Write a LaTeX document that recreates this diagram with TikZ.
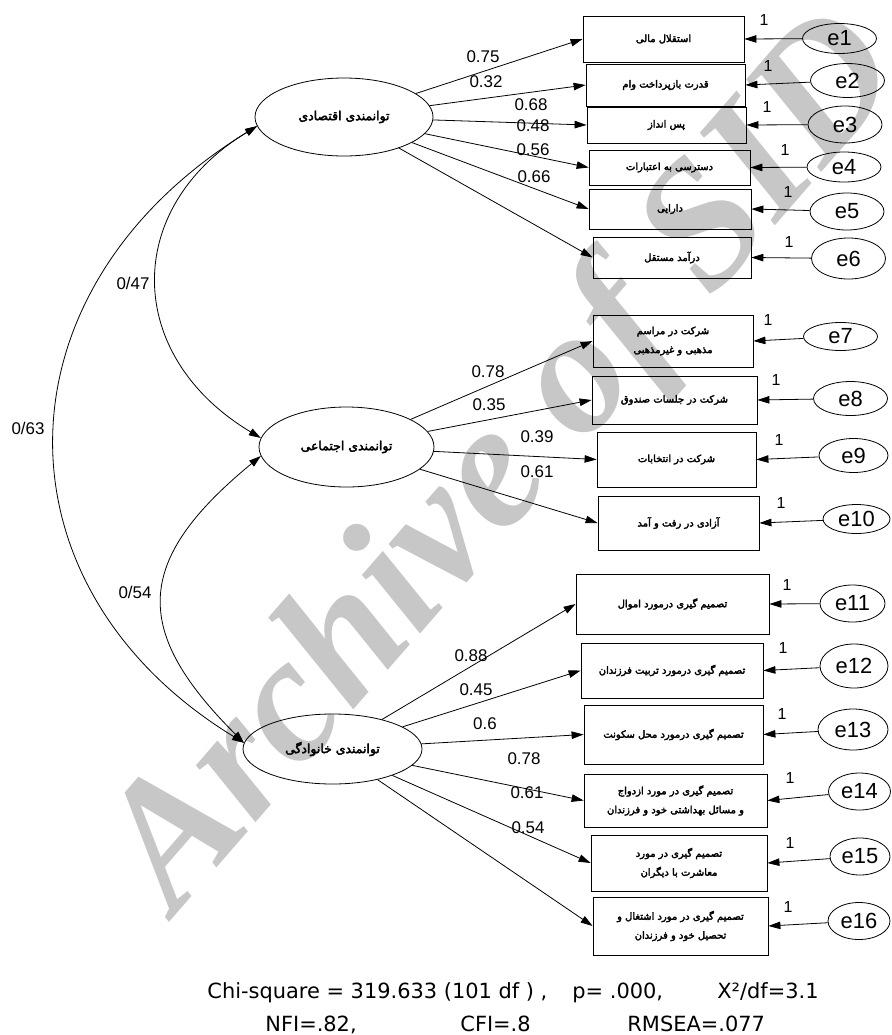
\documentclass[tikz,border=0pt]{standalone}
\usepackage{fontspec}
\setmainfont{Liberation Sans}
\newfontfamily\fafont[Script=Arabic,FakeBold=3]{DejaVu Sans}
\newfontfamily\fitfont{DejaVu Sans}
\newfontfamily\wmfont{Liberation Serif}
\TeXXeTstate=1
\usetikzlibrary{arrows.meta,shapes.geometric}
\newcommand\fatext[1]{\beginR #1\endR}
\tikzset{
  lat/.style={draw,ellipse,inner sep=0pt,font=\fafont\fontsize{12.5}{14}\selectfont},
  indbox/.style={draw,rectangle,inner sep=0pt,align=center,font=\fafont\fontsize{10}{19}\selectfont},
  err/.style={draw,ellipse,inner sep=0pt,minimum width=74bp,minimum height=34bp,font=\fontsize{22}{24}\selectfont},
  coef/.style={inner sep=0pt,font=\fontsize{17}{19}\selectfont},
  one/.style={inner sep=0pt,font=\fontsize{16}{18}\selectfont},
  fitidx/.style={inner sep=0pt,anchor=base west,font=\fitfont\fontsize{21}{24}\selectfont},
  load/.style={-{Triangle[length=12bp,width=7.5bp]}},
  cov/.style={{Triangle[length=12bp,width=7.5bp]}-{Triangle[length=12bp,width=7.5bp]}}
}
\begin{document}
\begin{tikzpicture}[x=1bp,y=-1bp,line width=0.8bp]
\useasboundingbox (0,0) rectangle (892,1035);
% watermark
\node[rotate=49,text=black!22,font=\wmfont\bfseries\itshape\fontsize{180}{180}\selectfont] (wm) at (508,466) {Archive of SID};
% latent factors
\node[lat,minimum width=178bp,minimum height=78bp] (eco) at (344,117) {\fatext{توانمندی اقتصادی}};
\node[lat,minimum width=175bp,minimum height=80bp] (soc) at (346.5,447) {\fatext{توانمندی اجتماعی}};
\node[lat,minimum width=179bp,minimum height=70bp] (fam) at (332.5,749) {\fatext{توانمندی خانوادگی}};
% indicators
\node[indbox,minimum width=161bp,minimum height=46bp] (b1) at (663.5,39) {\fatext{استقلال مالی}};
\node[indbox,minimum width=159bp,minimum height=42bp] (b2) at (665.5,85) {\fatext{قدرت بازپرداخت وام}};
\node[indbox,minimum width=159bp,minimum height=36bp] (b3) at (666.5,125) {\fatext{پس انداز}};
\node[indbox,minimum width=161bp,minimum height=35bp] (b4) at (669.5,167.5) {\fatext{دسترسی به اعتبارات}};
\node[indbox,minimum width=162bp,minimum height=40bp] (b5) at (670,209) {\fatext{دارایی}};
\node[indbox,minimum width=158bp,minimum height=41bp] (b6) at (672,257.5) {\fatext{درآمد مستقل}};
\node[indbox,minimum width=160bp,minimum height=52bp] (b7) at (673,341) {\fatext{شرکت در مراسم}\\\fatext{مذهبی و غیرمذهبی}};
\node[indbox,minimum width=165bp,minimum height=48bp] (b8) at (674.5,400) {\fatext{شرکت در جلسات صندوق}};
\node[indbox,minimum width=159bp,minimum height=55bp] (b9) at (676.5,459.5) {\fatext{شرکت در انتخابات}};
\node[indbox,minimum width=161bp,minimum height=54bp] (b10) at (678.5,523) {\fatext{آزادی در رفت و آمد}};
\node[indbox,minimum width=193bp,minimum height=60bp] (b11) at (672.5,604) {\fatext{تصمیم گیری درمورد اموال}};
\node[indbox,minimum width=182bp,minimum height=55bp] (b12) at (672,670.5) {\fatext{تصمیم گیری درمورد تربیت فرزندان}};
\node[indbox,minimum width=179bp,minimum height=59bp] (b13) at (673.5,734.5) {\fatext{تصمیم گیری درمورد محل سکونت}};
\node[indbox,minimum width=183bp,minimum height=53bp] (b14) at (675.5,800.5) {\fatext{تصمیم گیری در مورد ازدواج}\\\fatext{و مسائل بهداشتی خود و فرزندان}};
\node[indbox,minimum width=176bp,minimum height=56bp] (b15) at (679,863) {\fatext{تصمیم گیری در مورد}\\\fatext{معاشرت با دیگران}};
\node[indbox,minimum width=175bp,minimum height=58bp] (b16) at (680.5,926) {\fatext{تصمیم گیری در مورد اشتغال و}\\\fatext{تحصیل خود و فرزندان}};
% error terms
\node[err,minimum height=30bp] (e1) at (839.5,38.5) {e1};
\node[err] (e2) at (847.5,80.5) {e2};
\node[err,minimum height=37bp] (e3) at (845,124.5) {e3};
\node[err,minimum height=30bp] (e4) at (844,167) {e4};
\node[err,minimum height=37bp] (e5) at (847,211.5) {e5};
\node[err,minimum height=41bp] (e6) at (848.5,258.5) {e6};
\node[err,minimum height=28bp] (e7) at (840.5,336.5) {e7};
\node[err] (e8) at (850.5,398.5) {e8};
\node[err,minimum width=69bp] (e9) at (853.5,455.5) {e9};
\node[err,minimum width=67bp,minimum height=29bp] (e10) at (856.5,519) {e10};
\node[err,minimum width=65bp,minimum height=37bp] (e11) at (852.5,603.5) {e11};
\node[err,minimum width=68bp,minimum height=44bp] (e12) at (854,666) {e12};
\node[err,minimum width=70bp,minimum height=41bp] (e13) at (853,729.5) {e13};
\node[err,minimum width=62bp,minimum height=37bp] (e14) at (859.5,791.5) {e14};
\node[err,minimum width=60bp,minimum height=37bp] (e15) at (860,856.5) {e15};
\node[err,minimum width=62bp,minimum height=37bp] (e16) at (859,921) {e16};
% loadings
\draw[load] (eco) -- (b1.west);
\draw[load] (eco) -- (b2.west);
\draw[load] (eco) -- (b3.west);
\draw[load] (eco) -- (b4.west);
\draw[load] (eco) -- (b5.west);
\draw[load] (eco) -- (b6.west);
\draw[load] (soc) -- (b7.west);
\draw[load] (soc) -- (b8.west);
\draw[load] (soc) -- (b9.west);
\draw[load] (soc) -- (b10.west);
\draw[load] (fam) -- (b11.west);
\draw[load] (fam) -- (b12.west);
\draw[load] (fam) -- (b13.west);
\draw[load] (fam) -- (b14.west);
\draw[load] (fam) -- (b15.west);
\draw[load] (fam) -- (b16.west);
\node[coef] (c1) at (483,57) {0.75};
\node[coef] (c2) at (486,82) {0.32};
\node[coef] (c3) at (531,105) {0.68};
\node[coef] (c4) at (533,126) {0.48};
\node[coef] (c5) at (533,150) {0.56};
\node[coef] (c6) at (534,177) {0.66};
\node[coef] (c7) at (488,372) {0.78};
\node[coef] (c8) at (489,405) {0.35};
\node[coef] (c9) at (537,437) {0.39};
\node[coef] (c10) at (537,472) {0.61};
\node[coef] (c11) at (471,656) {0.88};
\node[coef] (c12) at (476,690) {0.45};
\node[coef] (c13) at (485,724) {0.6};
\node[coef] (c14) at (524,759) {0.78};
\node[coef] (c15) at (527,793) {0.61};
\node[coef] (c16) at (528,828) {0.54};
% error paths
\draw[load] (e1) -- (b1.east);
\draw[load] (e2) -- (b2.east);
\draw[load] (e3) -- (b3.east);
\draw[load] (e4) -- (b4.east);
\draw[load] (e5) -- (b5.east);
\draw[load] (e6) -- (b6.east);
\draw[load] (e7) -- (b7.east);
\draw[load] (e8) -- (b8.east);
\draw[load] (e9) -- (b9.east);
\draw[load] (e10) -- (b10.east);
\draw[load] (e11) -- (b11.east);
\draw[load] (e12) -- (b12.east);
\draw[load] (e13) -- (b13.east);
\draw[load] (e14) -- (b14.east);
\draw[load] (e15) -- (b15.east);
\draw[load] (e16) -- (b16.east);
\node[one] (o1) at (764,20) {1};
\node[one] (o2) at (768,66) {1};
\node[one] (o3) at (767,107) {1};
\node[one] (o4) at (785,150) {1};
\node[one] (o5) at (788,192) {1};
\node[one] (o6) at (789,242) {1};
\node[one] (o7) at (768,320) {1};
\node[one] (o8) at (776,380) {1};
\node[one] (o9) at (779,440) {1};
\node[one] (o10) at (781,503) {1};
\node[one] (o11) at (787,585) {1};
\node[one] (o12) at (783,648) {1};
\node[one] (o13) at (782,714) {1};
\node[one] (o14) at (790,778) {1};
\node[one] (o15) at (790,843) {1};
\node[one] (o16) at (788,907) {1};
% covariances
\draw[cov] (eco.186) .. controls (-10,290) and (-10,588) .. (fam.176);
\draw[cov] (eco.186) .. controls (122,208) and (124,356) .. (soc.174);
\draw[cov] (soc.186) .. controls (133,561) and (132,631) .. (fam.176);
\node[coef] (r1) at (28,428) {0/63};
\node[coef] (r2) at (133,283) {0/47};
\node[coef] (r3) at (135,592) {0/54};
% fit indices
\node[fitidx] (chi) at (207,998) {Chi-square = 319.633 (101 df ) ,};
\node[fitidx] (pval) at (572,998) {p= .000,};
\node[fitidx] (xdf) at (717,998) {X²/df=3.1};
\node[fitidx] (nfi) at (265,1031) {NFI=.82,};
\node[fitidx] (cfi) at (460,1031) {CFI=.8};
\node[fitidx] (rmsea) at (627,1031) {RMSEA=.077};
\end{tikzpicture}
\end{document}
